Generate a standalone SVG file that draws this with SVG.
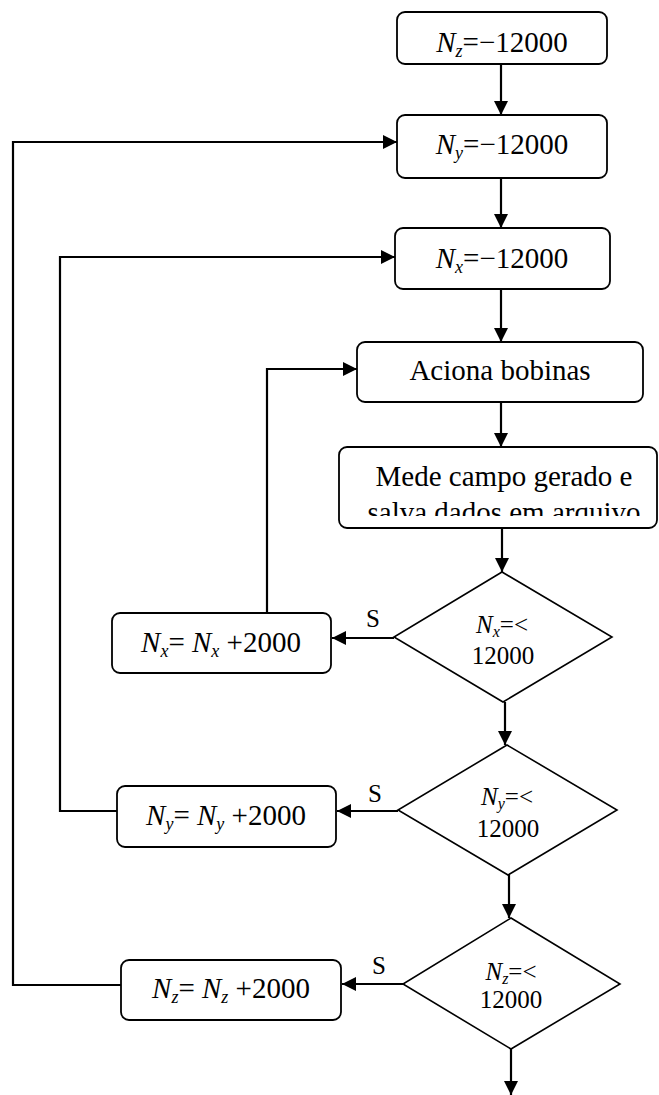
<svg xmlns="http://www.w3.org/2000/svg" width="659" height="1095" viewBox="0 0 659 1095">
<style>
.box{fill:#fff;stroke:#000;stroke-width:1.8}
.dia{fill:#fff;stroke:#000;stroke-width:1.6}
.t{font-family:"Liberation Serif","Times New Roman",serif;font-size:29px;fill:#000;text-anchor:middle}
.td{font-family:"Liberation Serif","Times New Roman",serif;font-size:25px;fill:#000;text-anchor:middle}
.i{font-style:italic}
.c{fill:none;stroke:#000;stroke-width:2.2}
</style>
<defs>
<marker id="ah" viewBox="0 0 14 14" refX="14" refY="7" markerWidth="14" markerHeight="14" markerUnits="userSpaceOnUse" orient="auto">
<path d="M0,0 L14,7 L0,14 z" fill="#000"/>
</marker>
<clipPath id="clipMede"><rect x="339" y="447" width="320" height="69"/></clipPath>
</defs>
<rect width="659" height="1095" fill="#fff"/>
<g id="connectors">
<path class="c" d="M501,64 V115" marker-end="url(#ah)"/>
<path class="c" d="M501,178 V228" marker-end="url(#ah)"/>
<path class="c" d="M501,289 V342" marker-end="url(#ah)"/>
<path class="c" d="M501,402 V447" marker-end="url(#ah)"/>
<path class="c" d="M502,528 V572" marker-end="url(#ah)"/>
<path class="c" d="M505,702 V745" marker-end="url(#ah)"/>
<path class="c" d="M509,875 V918" marker-end="url(#ah)"/>
<path class="c" d="M511,1049 V1095" marker-end="url(#ah)"/>
<path class="c" d="M394,638 H332" marker-end="url(#ah)"/>
<path class="c" d="M398,811 H337" marker-end="url(#ah)"/>
<path class="c" d="M403,984 H342" marker-end="url(#ah)"/>
<path class="c" d="M267,613 V369 H357" marker-end="url(#ah)"/>
<path class="c" d="M117,811 H60 V257 H395" marker-end="url(#ah)"/>
<path class="c" d="M121,985 H13 V142 H397" marker-end="url(#ah)"/>
<text class="td" x="373" y="627">S</text>
<text class="td" x="375" y="802">S</text>
<text class="td" x="379" y="974">S</text>
</g>
<g id="nz_init">
<rect class="box" x="397" y="12" width="210" height="52" rx="8"/>
<text class="t" x="502" y="52"><tspan class="i">N</tspan><tspan class="i" font-size="18" dy="5">z</tspan><tspan dy="-5">=−12000</tspan></text>
</g>
<g id="ny_init">
<rect class="box" x="397" y="115" width="210" height="63" rx="8"/>
<text class="t" x="502" y="154"><tspan class="i">N</tspan><tspan class="i" font-size="18" dy="5">y</tspan><tspan dy="-5">=−12000</tspan></text>
</g>
<g id="nx_init">
<rect class="box" x="395" y="228" width="215" height="61" rx="8"/>
<text class="t" x="502" y="268"><tspan class="i">N</tspan><tspan class="i" font-size="18" dy="5">x</tspan><tspan dy="-5">=−12000</tspan></text>
</g>
<g id="aciona">
<rect class="box" x="357" y="342" width="286" height="60" rx="8"/>
<text class="t" x="500" y="380">Aciona bobinas</text>
</g>
<g id="mede">
<rect class="box" x="339" y="447" width="318" height="81" rx="8"/>
<g clip-path="url(#clipMede)">
<text class="t" x="504" y="486">Mede campo gerado e</text>
<text class="t" x="504" y="522">salva dados em arquivo</text>
</g>
</g>
<g id="dec_nx">
<polygon class="dia" points="502,572 612,637 503,702 394,637"/>
<text class="td" x="502" y="633"><tspan class="i">N</tspan><tspan class="i" font-size="16" dy="4">x</tspan><tspan dy="-4">=&lt;</tspan></text>
<text class="td" x="503" y="664">12000</text>
</g>
<g id="dec_ny">
<polygon class="dia" points="507,745 617,810 508,875 398,810"/>
<text class="td" x="507" y="805"><tspan class="i">N</tspan><tspan class="i" font-size="16" dy="4">y</tspan><tspan dy="-4">=&lt;</tspan></text>
<text class="td" x="508" y="837">12000</text>
</g>
<g id="dec_nz">
<polygon class="dia" points="511,918 620,984 511,1049 403,984"/>
<text class="td" x="511" y="980"><tspan class="i">N</tspan><tspan class="i" font-size="16" dy="4">z</tspan><tspan dy="-4">=&lt;</tspan></text>
<text class="td" x="511" y="1008">12000</text>
</g>
<g id="nx_inc">
<rect class="box" x="112" y="613" width="219" height="60" rx="8"/>
<text class="t" x="221" y="652"><tspan class="i">N</tspan><tspan class="i" font-size="18" dy="5">x</tspan><tspan dy="-5">= </tspan><tspan class="i">N</tspan><tspan class="i" font-size="18" dy="5">x</tspan><tspan dy="-5"> +2000</tspan></text>
</g>
<g id="ny_inc">
<rect class="box" x="117" y="786" width="219" height="61" rx="8"/>
<text class="t" x="226" y="825"><tspan class="i">N</tspan><tspan class="i" font-size="18" dy="5">y</tspan><tspan dy="-5">= </tspan><tspan class="i">N</tspan><tspan class="i" font-size="18" dy="5">y</tspan><tspan dy="-5"> +2000</tspan></text>
</g>
<g id="nz_inc">
<rect class="box" x="121" y="960" width="220" height="60" rx="8"/>
<text class="t" x="231" y="998"><tspan class="i">N</tspan><tspan class="i" font-size="18" dy="5">z</tspan><tspan dy="-5">= </tspan><tspan class="i">N</tspan><tspan class="i" font-size="18" dy="5">z</tspan><tspan dy="-5"> +2000</tspan></text>
</g>
</svg>
